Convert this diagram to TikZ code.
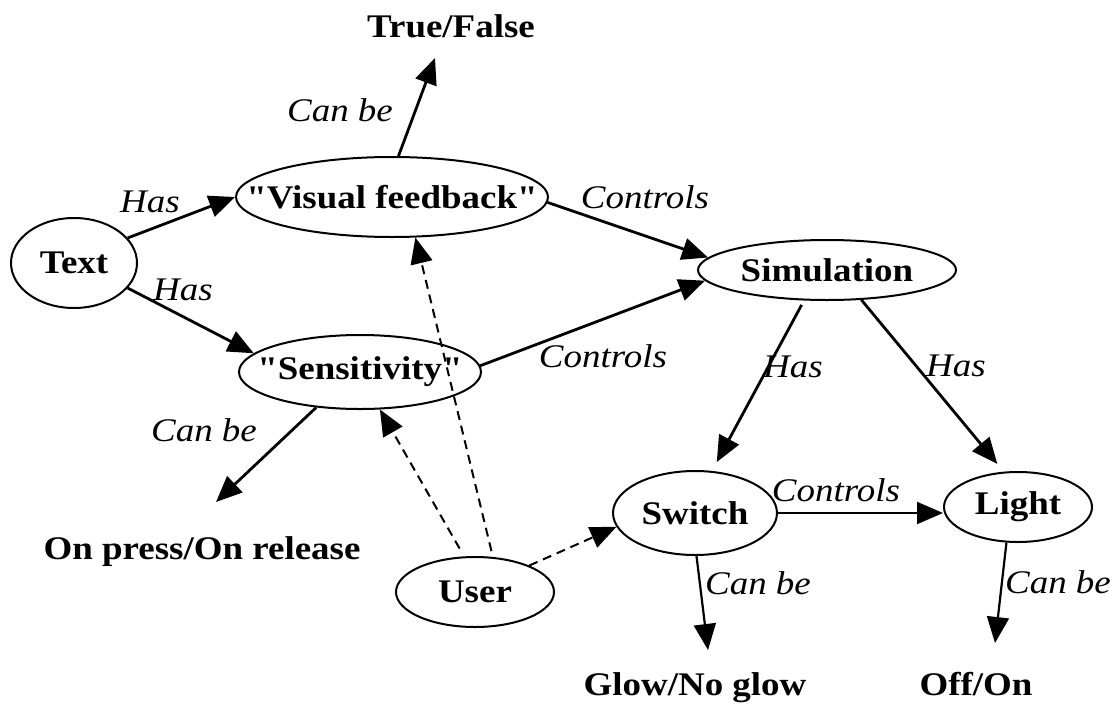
\documentclass[tikz,border=0pt]{standalone}
\usepackage{fontspec}
\setmainfont{Liberation Serif}[Ligatures=TeXOff,FakeStretch=1.12]
\usetikzlibrary{arrows.meta,shapes.geometric}
\begin{document}
\begin{tikzpicture}[x=1pt,y=-1pt,
  ell/.style={ellipse,draw,line width=2pt,inner sep=-55pt,font=\fontsize{33}{38}\selectfont\bfseries},
  lbl/.style={inner sep=0pt,text height=23pt,text depth=7pt,font=\fontsize{33}{38}\selectfont\bfseries},
  rel/.style={inner sep=0pt,font=\fontsize{33}{38}\selectfont\itshape},
  arr/.style={line width=2.8pt,-{Triangle[length=26pt,width=22pt]}},
  darr/.style={line width=2pt,dash pattern=on 9pt off 6pt,-{Triangle[length=26pt,width=22pt]}}]
\useasboundingbox (0,0) rectangle (1113,704);

% nodes
\node[ell,minimum width=126pt,minimum height=90pt] (text) at (74,263) {Text};
\node[ell,minimum width=312pt,minimum height=80pt] (vf) at (392,197) {"Visual feedback"};
\node[ell,minimum width=242pt,minimum height=74pt] (sens) at (360,372) {"Sensitivity"};
\node[ell,minimum width=258pt,minimum height=60pt] (sim) at (827,270) {Simulation};
\node[ell,minimum width=158pt,minimum height=70pt] (user) at (475,592) {User};
\node[ell,minimum width=164pt,minimum height=84pt] (switch) at (695,513) {Switch};
\node[ell,minimum width=148pt,minimum height=70pt] (light) at (1018,507) {Light};

\node[lbl] (tf) at (451,29) {True/False};
\node[lbl] (op) at (202,551) {On press/On release};
\node[lbl] (glow) at (695,687) {Glow/No glow};
\node[lbl] (offon) at (976,687) {Off/On};

% solid connectors
\draw[arr] (text.25) -- (vf.180);
\draw[arr] (text.-25) -- (sens.170);
\draw[arr] (vf.-2) -- (sim.174);
\draw[arr] (sens.3) -- (sim.185);
\draw[arr] (vf.81.5) -- ([shift={(-16,29)}]tf.center);
\draw[arr] (sens.-141.6) -- ([shift={(14,-49)}]op.center);
\draw[arr,shorten <=5pt,shorten >=10pt] (sim.-127.6) -- (switch.68.6);
\draw[arr,shorten >=10pt] (sim.-41.5) -- (light.112.9);
\draw[arr,line width=2pt] (switch.east) -- (switch.east -| light.west);
\draw[arr,line width=2.2pt] (switch.-88) -- ([shift={(13,-37)}]glow.center);
\draw[arr,line width=2.2pt] (light.-108) -- ([shift={(19,-44)}]offon.center);

% dashed connectors
\draw[darr] (user.26.6) -- (switch.190);
\draw[darr,shorten <=9pt] (user.107.6) -- (sens.-62);
\draw[darr,shorten <=6pt] (user.63.4) -- (vf.-60);

% relation labels
\node[rel] at (150,202) {Has};
\node[rel] at (183,290) {Has};
\node[rel] at (645,197) {Controls};
\node[rel] at (603,356) {Controls};
\node[rel] at (793,367) {Has};
\node[rel] at (956,366) {Has};
\node[rel] at (340,110) {Can be};
\node[rel] at (204,430) {Can be};
\node[rel] at (836,490) {Controls};
\node[rel] at (758,583) {Can be};
\node[rel] at (1058,582) {Can be};
\end{tikzpicture}
\end{document}
